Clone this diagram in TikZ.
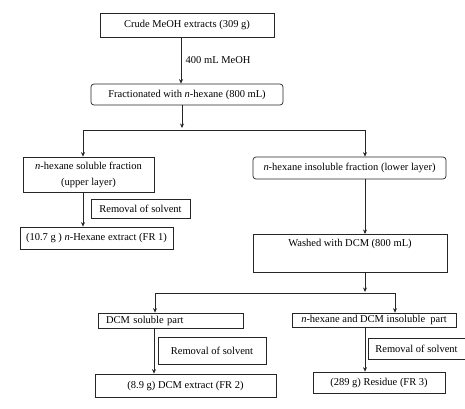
\documentclass[tikz,border=0pt]{standalone}
\usepackage{fontspec}
\setmainfont{Liberation Serif}
\usetikzlibrary{arrows.meta}
\tikzset{
  box/.style={draw=black!85, line width=0.7pt, inner sep=0pt, align=center,
    font=\fontsize{10.5}{16}\selectfont},
  rbox/.style={box, rounded corners=3pt},
  conn/.style={draw=black!85, line width=0.8pt},
  arr/.style={conn, -{Stealth[length=4.5pt,width=4pt]}}
}
\begin{document}
\begin{tikzpicture}[x=1pt,y=-1pt]
\useasboundingbox (0,0) rectangle (465,408);

\node[box, minimum width=174, minimum height=24] (crude) at (187,25) {Crude MeOH extracts (309 g)};
\node[rbox, minimum width=192, minimum height=21] (frac) at (187,94.5) {Fractionated with \textit{n}-hexane (800 mL)};
\node[box, minimum width=131, minimum height=35] (sol) at (88.5,174.5) {\textit{n}-hexane soluble fraction\\(upper layer)};
\node[box, minimum width=99, minimum height=19] (rem1) at (140.5,208.5) {Removal of solvent};
\node[box, minimum width=153, minimum height=22] (fr1) at (96.5,238) {(10.7 g ) \textit{n}-Hexane extract (FR 1)};
\node[rbox, minimum width=193, minimum height=22] (insfr) at (349.5,168) {\textit{n}-hexane insoluble fraction (lower layer)};
\node[box, minimum width=194, text height=12.5pt, text depth=25.5pt, anchor=north] (washed) at (350,234) {Washed with DCM (800 mL)};
\node[box, text width=129pt, inner xsep=8pt, align=left, minimum height=15] (dcmsol) at (170.5,320.5) {DCM soluble part};
\node[box, minimum width=164, minimum height=14] (insol) at (374,320) {\textit{n}-hexane and DCM insoluble\ \ part};
\node[box, minimum width=108, minimum height=27] (rem2) at (212,350.5) {Removal of solvent};
\node[box, minimum width=181, minimum height=23] (fr2) at (185.5,385.5) {(8.9 g) DCM extract (FR 2)};
\node[box, minimum width=97, minimum height=21] (rem3) at (416.5,348.5) {Removal of solvent};
\node[box, minimum width=132, minimum height=21] (fr3) at (379,382.5) {(289 g) Residue (FR 3)};

\coordinate (j1) at (182,128);
\coordinate (hl) at (83,130);
\coordinate (hr) at (365,130);
\coordinate (j2) at (365,292);
\coordinate (h2l) at (155,293);
\coordinate (h2r) at (395,293);

\draw[arr] ([xshift=-6pt]crude.south) -- node[right, font=\fontsize{10.5}{12}\selectfont, xshift=1pt] {400 mL MeOH} ([xshift=-6pt]frac.north);
\draw[arr] ([xshift=-5pt]frac.south) -- (j1);
\draw[conn] (hl) -- (hr);
\draw[arr] (hl) -- (sol.north -| hl);
\draw[arr] (hr) -- (insfr.north -| hr);
\draw[arr] (sol.south -| hl) -- (fr1.north -| hl);
\draw[arr] (insfr.south -| hr) -- (washed.north -| hr);
\draw[arr] (washed.south -| j2) -- (j2);
\draw[conn] (h2l) -- (h2r);
\draw[arr] (h2l) -- (dcmsol.north -| h2l);
\draw[arr] (h2r) -- (insol.north -| h2r);
\draw[arr] ([xshift=-1pt]dcmsol.south -| h2l) -- ([xshift=-1pt]fr2.north -| h2l);
\draw[arr] (insol.south -| hr) -- (fr3.north -| hr);
\end{tikzpicture}
\end{document}
